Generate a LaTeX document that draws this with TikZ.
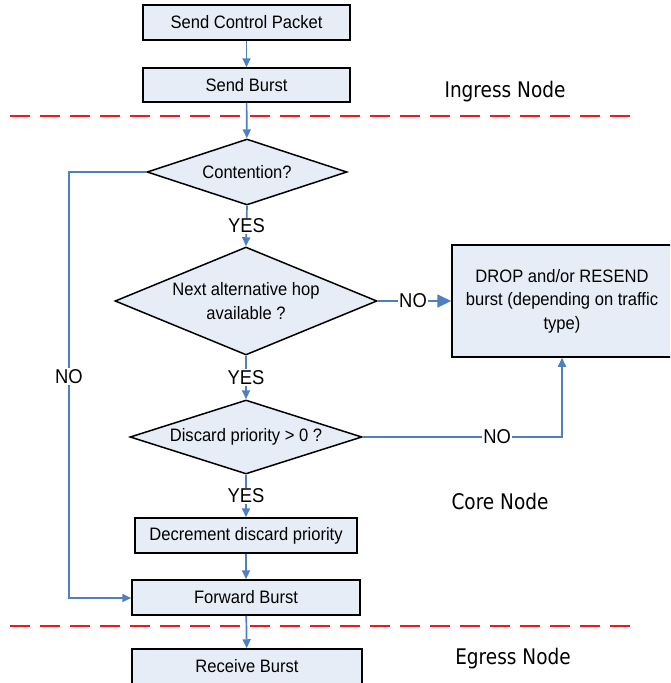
\documentclass[tikz,border=0pt]{standalone}
\usepackage{fontspec}
\setmainfont{Liberation Sans}[FakeStretch=0.92]
\newfontfamily\regionfont{DejaVu Sans}[FakeStretch=0.86]
\usetikzlibrary{shapes.geometric,arrows.meta}
\definecolor{boxfill}{HTML}{E7EDF7}
\definecolor{flowblue}{HTML}{4F7FC3}
\definecolor{sepred}{HTML}{F01818}
\begin{document}
\begin{tikzpicture}[x=1pt,y=-1pt,
  txt/.style={font=\fontsize{18}{23.5}\selectfont},
  procbox/.style={txt,draw=black,line width=1.5pt,fill=boxfill,inner sep=0pt,align=center},
  decision/.style={diamond,draw=black,line width=1.5pt,fill=boxfill,inner sep=0pt},
  flow/.style={draw=flowblue,line width=1.7pt,-{Triangle[width=8pt,length=9pt]}},
  bigflow/.style={draw=flowblue,line width=1.7pt,-{Triangle[width=13pt,length=14pt]}},
  lbl/.style={font=\fontsize{20}{24}\selectfont,fill=white,inner sep=1pt},
  region/.style={font=\regionfont\fontsize{21.5}{24}\selectfont,inner sep=0pt},
  sepline/.style={draw=sepred,line width=1.8pt,dash pattern=on 20pt off 10pt}]
\useasboundingbox (0,0) rectangle (670,683);
\clip (0,0) rectangle (670,683);
% boxes
\node[procbox,minimum width=207pt,minimum height=35pt] (scp) at (246.5,22.5) {Send Control Packet};
\node[procbox,minimum width=207pt,minimum height=34pt] (sb) at (246.5,85) {Send Burst};
\node[decision,minimum width=200pt,minimum height=66pt] (cont) at (247,172) {};
\node[txt,align=center] (conttxt) at (cont.center) {Contention?};
\node[decision,minimum width=262pt,minimum height=108pt] (next) at (246,301) {};
\node[txt,align=center] (nexttxt) at (next.center) {Next alternative hop\\available ?};
\node[procbox,minimum width=220pt,minimum height=112pt] (drop) at (562,301) {DROP and/or RESEND\\burst (depending on traffic\\type)};
\node[decision,minimum width=232pt,minimum height=74pt] (disc) at (246,437) {};
\node[txt,align=center] (disctxt) at (disc.center) {Discard priority > 0 ?};
\node[procbox,minimum width=222pt,minimum height=35pt] (dec) at (246,535.5) {Decrement discard priority};
\node[procbox,minimum width=228pt,minimum height=35pt] (fwd) at (246,597.5) {Forward Burst};
\node[procbox,minimum width=230pt,minimum height=40pt] (rcv) at (247,669) {};
\node[txt] (rcvtxt) at (247,666) {Receive Burst};
% region labels
\node[region] (ingress) at (505,92) {Ingress Node};
\node[region] (core) at (500,501) {Core Node};
\node[region] (egress) at (513,659) {Egress Node};
% separators
\draw[sepline] (10,116) -- (632,116);
\draw[sepline] (10,626) -- (632,626);
% connectors
\draw[flow] (scp) -- (sb);
\draw[flow] (sb) -- (cont);
\draw[flow] (cont.south) -- node[lbl]{YES} (next.north);
\draw[flow] (next.south) -- node[lbl]{YES} (disc.north);
\draw[flow] (disc.south) -- node[lbl]{YES} (dec.north);
\draw[flow] (dec) -- (fwd);
\draw[flow] (fwd) -- (rcv);
\draw[bigflow] (next.east) -- node[lbl,pos=0.48]{NO} (drop.west);
\draw[flow] (disc.east) -- node[lbl,pos=0.675]{NO} (drop.south |- disc.east) -- (drop.south);
\coordinate (ltop) at (69,172);
\coordinate (lbot) at (69,598);
\draw[flow] (cont.west) -- (ltop) -- node[lbl,pos=0.48]{NO} (lbot) -- (fwd.west |- lbot);
\end{tikzpicture}
\end{document}
